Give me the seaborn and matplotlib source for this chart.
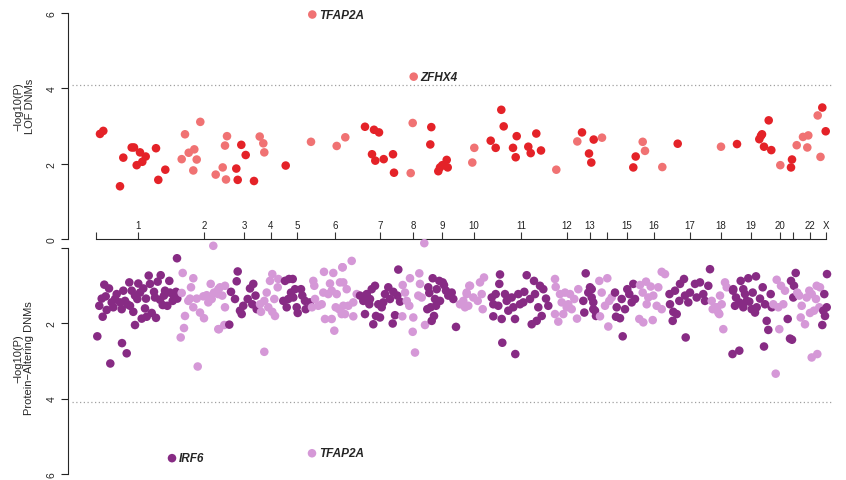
"""
Miami plot of de novo mutation burden per gene:
LOF DNMs on top, protein-altering DNMs mirrored underneath.
"""

import numpy as np
import pandas as pd
import matplotlib
matplotlib.use("Agg")
import matplotlib.pyplot as plt
import seaborn as sns

# chromosome layout along the x axis (gene-order coordinate)
CHROM_NAMES = [str(i) for i in range(1, 23)] + ["X"]
CHROM_LABELS = ["1", "2", "3", "4", "5", "6", "7", "8", "9", "10", "11", "12",
                "13", "", "15", "16", "17", "18", "19", "20", "", "22", "X"]
CHROM_START = [0, 82, 132, 162.5, 183, 214.5, 262.5, 305.5, 330, 362, 391, 458,
               484, 502, 518, 542.5, 572, 614.8, 636, 677, 690, 700, 725.5]
CHROM_TICKS = [42, 108, 148, 175, 201, 239, 284, 317, 346, 378, 425, 470.5,
               494, 510.5, 531, 557.5, 594, 624.5, 655, 684, 697, 714, 730]
AXIS_END = 730
THRESHOLD = 4.08

# LOF DNMs (top panel)
LOF_POS = [
    4, 7.3, 27.3, 24, 35.7, 38, 44, 49.7, 46.3, 40.7, 60, 69.3, 62.3,          # 1
    89, 104.3, 92.7, 98.3, 85.7, 100.7, 97.3, 131, 129, 126.7, 119.7, 130,    # 2
    145.3, 149.7, 140.3, 141.7, 158,                                           # 3
    163.7, 167.3, 168.3,                                                       # 4
    189.7,                                                                     # 5
    215, 240.7, 249.3, 216.3,                                                  # 6
    269, 278, 283, 276, 279.3, 287.7, 297, 298,                                # 7
    314.7, 316.7, 317.7,                                                       # 8
    335.3, 334.3, 342.3, 344, 346.3, 350.7, 351.7,                             # 9
    376.3, 378.3,                                                              # 10
    405.3, 407.7, 394.7, 399.7, 420.7, 417, 419.7, 432.3, 434.7, 440.3, 445,  # 11
    460.3, 481.3,                                                              # 12
    486, 497.7, 493, 495.3,                                                    # 13
    506,                                                                       # 14
    537.3, 539.7,                                                              # 15
    546.7, 549, 566.3,                                                         # 16
    581.7,                                                                     # 17
    625,                                                                       # 18
    641, 663.3, 665, 666, 672.7, 668, 675.3,                                   # 19
    684.3,                                                                     # 20
    695, 696,                                                                  # 21
    700.7, 707, 712.3, 711.3, 721.7, 724.5,                                    # 22
    726.3, 729.7,                                                              # X
]
LOF_LOGP = [
    2.79, 2.87, 2.16, 1.40, 2.43, 2.43, 2.30, 2.19, 2.05, 1.96, 2.41, 1.84, 1.57,
    2.78, 3.11, 2.29, 2.38, 2.12, 2.11, 1.82, 2.73, 2.48, 1.90, 1.71, 1.58,
    2.50, 2.23, 1.87, 1.57, 1.54,
    2.72, 2.54, 2.30,
    1.95,
    2.58, 2.47, 2.70, 5.96,
    2.98, 2.90, 2.83, 2.25, 2.08, 2.12, 2.25, 1.76,
    1.75, 3.08, 4.31,
    2.97, 2.51, 1.80, 1.90, 1.96, 2.10, 1.90,
    2.03, 2.42,
    3.43, 2.99, 2.61, 2.42, 2.73, 2.42, 2.17, 2.45, 2.28, 2.80, 2.35,
    1.84, 2.59,
    2.83, 2.64, 2.27, 2.03,
    2.69,
    1.90, 2.19,
    2.58, 2.34, 1.91,
    2.53,
    2.45,
    2.52, 2.65, 2.74, 2.78, 3.15, 2.45, 2.36,
    1.96,
    1.90, 2.11,
    2.49, 2.71, 2.75, 2.43, 3.28, 2.18,
    3.49, 2.86,
]
LOF_HITS = ["TFAP2A", "ZFHX4"]

# protein-altering DNMs (bottom panel)
PA_POS = [
    # 1
    1.3, 26, 30.7, 14.3, 39, 81, 8.3, 13, 5.7, 3.3, 9.7, 10.7, 6.7, 15.7, 20.7, 19,
    25.7, 27.3, 29, 33.3, 35.7, 34, 37.3, 42.3, 44, 41.3, 47.3, 49, 45.7, 50.7,
    52.7, 54, 58, 55.7, 60, 61.7, 64.7, 64, 66.7, 69, 71.3, 73.3, 74, 76.7, 80,
    81.3, 24, 17.3, 31.3, 39, 50, 59, 68, 78, 76,
    # 2
    86.7, 97.3, 95, 114.7, 117.3, 85.7, 92.3, 97.3, 104, 108, 89, 88, 84.7, 101.7,
    122.3, 100.7, 107.3, 112.3, 118, 122.3, 94, 110.7, 115.7, 124, 129, 122.3,
    126.3, 129, 123, 128.3,
    # 3
    133.3, 141.7, 140.7, 135, 139, 144, 147.3, 151.7, 154, 157.3, 156.3, 160.7,
    159.5, 145.7,
    # 4
    164, 168.3, 172.3, 176.3, 179, 170.7, 174, 176.3, 182.3, 178.3, 165, 168.3, 181.7,
    # 5
    189, 193, 196.7, 187.3, 190.7, 195, 197.3, 200.7, 201.7, 205, 206.3, 209, 209.7,
    214, 199, 192.3,
    # 6
    217.3, 218.3, 228, 237.3, 246.3, 234, 244, 219, 216, 222.3, 225.7, 227.3, 232.3,
    235.7, 240.7, 229, 235.7, 238.3, 239.7, 243, 247.3, 245.7, 216, 255.7, 246.7,
    247.3, 250.7, 257.3, 252.3, 249, 257.3, 260.7,
    # 7
    264, 267.3, 269, 270.7, 274, 275.7, 277.3, 279, 280, 282.3, 284, 285.7, 289,
    292.3, 294, 297.3, 299, 296.7, 302.3, 301.3, 304, 273.3, 287.3,
    # 8
    306.7, 314, 323.3, 309, 310.7, 313.3, 317.3, 316.7, 319, 306.3, 324, 322.3,
    325.7, 328.3, 329,
    # 9
    336.7, 332.3, 333.3, 331.3, 334.7, 339, 340.7, 335.7, 338, 340, 343.3, 346.7,
    344, 350, 352.3, 355.7, 357.3, 360, 348,
    # 10
    364, 367.3, 370.7, 373.3, 369, 374, 370.7, 377.3, 384, 388, 385.7, 381.7, 386.7,
    372.3,
    # 11
    404, 403.3, 395.7, 397.3, 397.3, 402.3, 405.7, 409, 410.7, 412.3, 415.7, 419,
    422.3, 424, 428.3, 430.7, 434, 435.7, 438, 439, 440.7, 442.3, 444, 445.7, 447.3,
    450, 452.3, 406.3, 419.3, 399.7, 417.3, 427.3,
    # 12
    459, 459.7, 459, 462.3, 464, 465.7, 469, 470.7, 474, 475.7, 478.3, 482.3, 481,
    467.3, 472.3,
    # 13
    489.7, 487.3, 488.3, 492.3, 495.7, 497.3, 494, 495.7, 497.3, 499, 500,
    # 14
    503.3, 511.3, 505.7, 509, 513.3, 512.3, 515.7, 504,
    # 15
    519, 520.7, 520, 524, 525.7, 526.7, 529, 531.3, 533.3, 535.7, 537.3, 539,
    # 16
    544, 550, 554.7, 562.3, 546.7, 552.3, 557.3, 560.7, 565.7, 543.3, 547.3, 556.7,
    565.7, 569, 550.7,
    # 17
    573.5, 574, 577.3, 576.7, 580.7, 579, 584, 588, 583.3, 589, 592.3, 594, 599,
    604, 600.7, 607.3, 612.3, 589.7, 614, 609,
    # 18
    615.7, 619, 622.3, 624, 621.3, 625.7, 629, 630.7, 623.3, 627.3, 616.7,
    # 19
    636.5, 643.3, 637, 637.3, 640, 639, 644.7, 647.3, 649, 647.3, 652.3, 653.3,
    655.7, 656.7, 660, 660.7, 659, 664, 666.7, 669, 670.7, 672.3, 668, 674.7, 675.7,
    643.3, 650.7,
    # 20
    677.3, 680.7, 682.3, 685, 687.3, 689, 683.3, 679.7,
    # 21
    691.7, 694, 696, 695, 698, 699.7, 697.3,
    # 22
    701.3, 703.3, 705.7, 704.7, 709, 710.7, 713.3, 715.7, 714, 718, 720.7, 724,
    723.3, 715.7, 721.3, 720,
    # X
    731, 728.3, 730.7, 729, 726.3, 727.3,
]
PA_LOGP = [
    # 1
    2.35, 2.53, 2.80, 3.07, 2.05, 0.28, 0.98, 1.08, 1.35, 1.54, 1.29, 1.65, 1.83, 1.45, 1.23, 1.36,
    1.63, 1.14, 1.41, 0.92, 1.14, 1.54, 1.70, 0.95, 1.19, 1.36, 1.08, 1.61, 1.88, 1.83,
    0.74, 0.96, 1.17, 1.73, 1.86, 0.90, 0.73, 1.38, 1.52, 1.14, 1.54, 0.88, 1.19, 1.41, 1.17,
    1.35, 1.45, 1.58, 1.50, 1.27, 1.35, 1.32, 1.27, 1.29, 5.58,
    # 2
    0.67, 0.81, 1.05, 0.96, -0.05, 1.20, 1.41, 1.58, 1.72, 1.87, 1.81, 2.13, 2.38, 3.15,
    2.16, 1.35, 1.29, 1.45, 1.19, 1.10, 1.35, 1.26, 1.36, 1.05, 1.01, 1.23,
    1.27, 1.58, 2.16, 2.05,
    # 3
    2.04, 0.63, 0.89, 1.17, 1.36, 1.67, 1.54, 1.36, 1.08, 0.96, 1.50, 1.63,
    1.27, 1.76,
    # 4
    1.50, 1.41, 1.58, 1.70, 1.81, 1.19, 0.88, 0.70, 0.83, 1.36, 1.70, 2.76, 1.05,
    # 5
    0.88, 0.83, 0.83, 1.41, 1.58, 1.19, 1.32, 1.58, 1.73, 1.10, 1.27, 1.41, 1.63,
    1.45, 1.10, 1.36,
    # 6
    0.88, 1.01, 0.64, 0.67, 0.52, 0.95, 0.92, 1.36, 1.58, 1.54, 1.50, 1.19, 1.23,
    1.14, 1.23, 1.89, 1.89, 2.20, 1.58, 1.63, 1.54, 1.76, 5.45, 0.35, 0.52,
    0.92, 1.10, 1.45, 1.54, 1.76, 1.82, 1.23,
    # 7
    1.27, 1.41, 1.76, 1.23, 1.36, 1.10, 2.03, 1.01, 1.81, 1.50, 1.85, 1.58, 1.23,
    1.05, 1.36, 1.17, 1.79, 2.01, 0.58, 1.27, 1.43, 1.50, 1.45,
    # 8
    0.99, 0.81, 0.68, 1.19, 1.41, 1.54, 1.85, 2.23, 2.78, 1.82, 0.96, 1.27,
    1.32, -0.12, 2.05,
    # 9
    0.81, 1.05, 1.20, 1.63, 1.58, 1.36, 1.10, 1.94, 1.81, 1.54, 0.88, 0.92,
    1.41, 1.14, 1.27, 1.19, 1.36, 2.10, 0.99,
    # 10
    1.50, 1.41, 1.19, 1.01, 1.58, 1.01, 1.23, 1.32, 0.92, 0.79, 1.23, 1.41, 1.63,
    1.54,
    # 11
    0.71, 0.96, 1.32, 1.50, 1.82, 1.54, 1.89, 1.23, 1.41, 1.67, 1.32, 1.89,
    1.23, 1.50, 1.17, 0.73, 1.36, 2.03, 0.88, 1.23, 1.94, 1.58, 1.01, 1.81, 1.10,
    1.35, 1.54, 2.52, 2.82, 1.23, 1.58, 1.45,
    # 12
    0.83, 1.04, 1.76, 1.96, 1.23, 1.45, 1.19, 1.58, 1.23, 1.63, 1.36, 1.10, 1.88,
    1.76, 1.50,
    # 13
    0.68, 1.41, 1.72, 1.19, 1.32, 1.63, 1.05, 1.10, 1.45, 1.67, 1.81,
    # 14
    0.88, 0.81, 1.19, 1.54, 1.41, 2.09, 1.32, 1.82,
    # 15
    1.19, 1.58, 1.83, 1.87, 1.36, 2.35, 1.63, 1.10, 1.23, 1.45, 0.96, 1.36,
    # 16
    0.99, 0.90, 1.03, 1.05, 1.19, 1.32, 1.27, 1.54, 1.63, 1.89, 1.98, 1.92,
    0.64, 0.70, 1.50,
    # 17
    1.23, 1.50, 1.70, 1.94, 1.76, 1.14, 0.96, 0.83, 1.41, 1.27, 1.45, 1.19, 0.96,
    0.92, 1.32, 1.23, 1.01, 2.38, 0.57, 1.41,
    # 18
    1.41, 1.58, 1.72, 1.27, 1.58, 1.50, 0.92, 1.05, 1.76, 2.16, 1.63,
    # 19
    2.82, 2.73, 1.14, 1.10, 1.32, 1.54, 0.88, 1.10, 1.23, 1.58, 0.81, 1.43,
    1.63, 1.19, 0.76, 1.58, 1.72, 1.35, 1.05, 1.50, 1.94, 2.18, 2.62, 1.23, 1.58,
    1.45, 1.41,
    # 20
    1.50, 0.85, 1.58, 1.01, 1.50, 1.14, 2.16, 3.34,
    # 21
    1.89, 2.41, 2.44, 0.88, 1.01, 0.67, 1.32,
    # 22
    1.19, 1.27, 1.54, 1.85, 2.03, 1.32, 1.14, 1.23, 1.73, 1.67, 1.01, 1.05,
    1.58, 2.91, 2.82, 1.36,
    # X
    0.70, 1.23, 1.58, 1.81, 2.05, 1.67,
]
PA_HITS = ["IRF6", "TFAP2A"]

LOF_PALETTE = {"odd": "#E42228", "even": "#F07273"}
PA_PALETTE = {"odd": "#872B84", "even": "#D598D7"}


def make_frame(pos, logp):
    """Collect one panel's points and tag alternate chromosomes."""
    df = pd.DataFrame({"pos": pos, "logp": logp})
    idx = np.searchsorted(CHROM_START, df["pos"].to_numpy(), side="right") - 1
    df["shade"] = np.where(idx % 2 == 0, "odd", "even")
    return df


def draw_panel(ax, df, palette, hits):
    sns.scatterplot(data=df, x="pos", y="logp", hue="shade", palette=palette,
                    s=38, linewidth=0, legend=False, ax=ax)
    for coll in ax.collections:
        coll.set_clip_on(False)

    ax.axhline(THRESHOLD, xmin=0.005, xmax=0.995, color="#A0A0A0",
               ls=(0, (1, 2)), lw=0.9)

    # label the genes above the significance line
    sig = df[df["logp"] > THRESHOLD].sort_values("pos")
    for gene, (_, row) in zip(hits, sig.iterrows()):
        ax.annotate(gene, (row["pos"], row["logp"]), xytext=(5, 0),
                    textcoords="offset points", ha="left", va="center",
                    fontsize=8.5, fontweight="bold", fontstyle="italic")

    ax.set_xlim(-28, 740)
    ax.set_xlabel("")
    ax.spines["top"].set_visible(False)
    ax.spines["right"].set_visible(False)
    ax.spines["left"].set_bounds(0, 6)
    ax.set_yticks([0, 2, 4, 6])
    ax.tick_params(axis="y", left=True, length=5, width=0.8, pad=3,
                   labelsize=7.5, color="#222222")


assert len(LOF_POS) == len(LOF_LOGP)
assert len(PA_POS) == len(PA_LOGP)

lof_df = make_frame(LOF_POS, LOF_LOGP)
pa_df = make_frame(PA_POS, PA_LOGP)

sns.set_style("white")
plt.rcParams["font.family"] = ["Liberation Sans", "DejaVu Sans"]
plt.rcParams["axes.linewidth"] = 0.8

W, H = 846, 481
fig = plt.figure(figsize=(W / 100, H / 100), dpi=100)
ax_top = fig.add_axes([68 / W, 1 - 240 / H, 768 / W, 226 / H])
ax_bot = fig.add_axes([68 / W, 1 - 475 / H, 768 / W, 226.3 / H])

#  top panel: LOF 
draw_panel(ax_top, lof_df, LOF_PALETTE, LOF_HITS)
ax_top.set_ylim(0, 6)
ax_top.set_yticklabels(["0", "2", "4", "6"], rotation=90, va="center")
ax_top.spines["bottom"].set_bounds(0, AXIS_END)
ax_top.set_xticks([0] + CHROM_TICKS)
ax_top.set_xticklabels([""] + CHROM_LABELS,
                       family=["Liberation Sans Narrow", "Liberation Sans"])
ax_top.tick_params(axis="x", bottom=True, direction="in", length=5, width=0.8,
                   pad=-14, labelsize=7, color="#333333", labelcolor="#222222")
ax_top.set_ylabel("\u2212log10(P)\nLOF DNMs", fontsize=8, linespacing=1.15)
ax_top.yaxis.set_label_coords(-0.043, 0.59)

#  bottom panel: protein-altering 
draw_panel(ax_bot, pa_df, PA_PALETTE, PA_HITS)
ax_bot.set_ylim(6, 0)
ax_bot.set_yticklabels(["", "2", "4", "6"], rotation=90, va="center")
ax_bot.spines["bottom"].set_visible(False)
ax_bot.set_xticks([])
ax_bot.set_ylabel("\u2212log10(P)\nProtein\u2212Altering DNMs", fontsize=8,
                  linespacing=1.15)
ax_bot.yaxis.set_label_coords(-0.044, 0.516)

fig.savefig("out.png", dpi=100)
plt.close(fig)
